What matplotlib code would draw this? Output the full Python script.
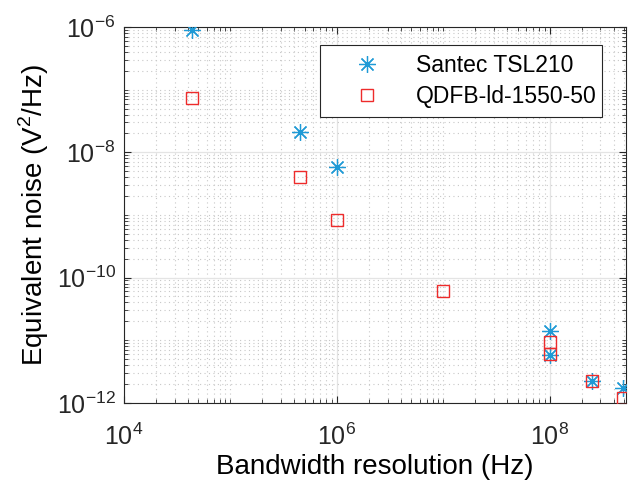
import matplotlib.pyplot as plt
from matplotlib.ticker import LogLocator, NullFormatter

plt.rcParams['font.family'] = ['Liberation Sans', 'DejaVu Sans']
plt.rcParams['mathtext.fontset'] = 'custom'
plt.rcParams['mathtext.rm'] = 'Liberation Sans'

# Santec TSL210 data
santec_bw = [4.4e4, 4.5e5, 1e6, 1e8, 1e8, 2.5e8, 4.9e8]
santec_noise = [9.0e-7, 2.1e-8, 5.8e-9, 1.4e-11, 5.8e-12, 2.2e-12, 1.7e-12]

# QDFB-ld-1550-50 data
qdfb_bw = [4.4e4, 4.5e5, 1e6, 1e7, 1e8, 1e8, 2.5e8, 4.9e8]
qdfb_noise = [7.4e-8, 4.0e-9, 8.3e-10, 6.2e-11, 9.5e-12, 6.1e-12, 2.2e-12, 1.2e-12]

labels = ['Santec TSL210', 'QDFB-ld-1550-50']
xticks = [1e4, 1e6, 1e8]
yticks = [1e-12, 1e-10, 1e-8, 1e-6]

fig = plt.figure(figsize=(6.29, 4.83), dpi=100)
ax = fig.add_axes([0.197, 0.166, 0.798, 0.778])

ax.plot(santec_bw, santec_noise, linestyle='none', marker=(8, 2, 0),
        markersize=12, markeredgewidth=0.9, color='#1f9ad6', label=labels[0], zorder=3)
ax.plot(qdfb_bw, qdfb_noise, linestyle='none', marker='s', markersize=8.5,
        markerfacecolor='none', markeredgewidth=1.0, color='#ee2b2b', label=labels[1], zorder=3)

ax.set_xscale('log')
ax.set_yscale('log')
ax.set_xlim(1e4, 5.2e8)
ax.set_ylim(1e-12, 1e-6)

ax.set_xticks(xticks)
ax.set_yticks(yticks)
ax.xaxis.set_minor_locator(LogLocator(base=10, subs=range(1, 10), numticks=50))
ax.yaxis.set_minor_locator(LogLocator(base=10, subs=range(1, 10), numticks=50))
ax.xaxis.set_minor_formatter(NullFormatter())
ax.yaxis.set_minor_formatter(NullFormatter())

ax.grid(True, which='major', color='#e4e4e4', linewidth=0.9, linestyle='-')
ax.grid(True, which='minor', color='#c8c8c8', linewidth=0.8, linestyle=(0, (1, 3)))
ax.set_axisbelow(True)

ax.tick_params(which='both', direction='in', top=True, right=True, labelsize=18, colors='#262626')
ax.tick_params(which='major', length=5)
ax.tick_params(which='minor', length=3)
ax.tick_params(axis='x', which='major', pad=15)
ax.tick_params(axis='y', which='major', pad=6)
for s in ax.spines.values():
    s.set_color('#262626')
    s.set_linewidth(0.8)

ax.set_xlabel('Bandwidth resolution (Hz)', fontsize=20, labelpad=3)
ax.set_ylabel('Equivalent noise (V$^2$/Hz)', fontsize=20, labelpad=4)

leg = ax.legend(loc='upper left', bbox_to_anchor=(0.390, 0.0, 0.562, 0.952), mode='expand',
                borderaxespad=0, fontsize=16.5, fancybox=False, framealpha=1,
                edgecolor='#262626', handletextpad=0.5, borderpad=0.4,
                labelspacing=0.35, handlelength=3.3)
leg.get_frame().set_linewidth(0.8)

fig.savefig('out.png', dpi=100)
